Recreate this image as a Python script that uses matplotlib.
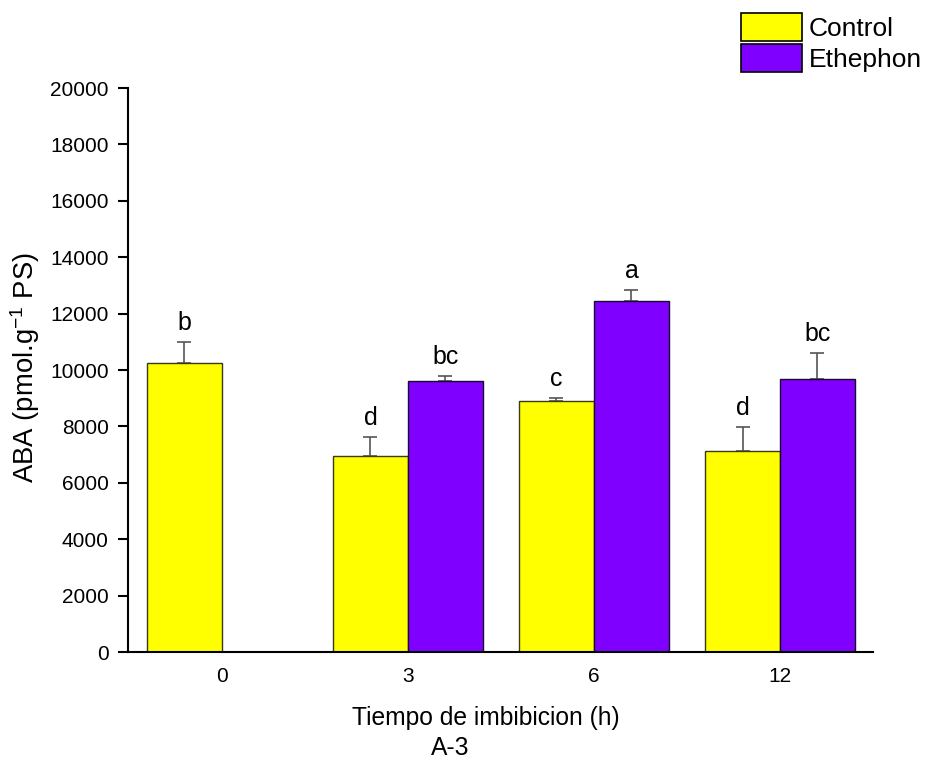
import numpy as np
import matplotlib
matplotlib.use("Agg")
import matplotlib.pyplot as plt
from matplotlib.patches import Patch

plt.rcParams['font.family'] = ['Liberation Sans', 'DejaVu Sans']
plt.rcParams['mathtext.fontset'] = 'custom'
plt.rcParams['mathtext.rm'] = 'Liberation Sans'
plt.rcParams['mathtext.it'] = 'Liberation Sans'

categories = ["0", "3", "6", "12"]
control = [10260, 6950, 8890, 7130]
control_err = [740, 670, 110, 840]
ethephon = [np.nan, 9610, 12460, 9690]
ethephon_err = [np.nan, 190, 390, 930]
control_letters = ["b", "d", "c", "d"]
ethephon_letters = ["", "bc", "a", "bc"]

fig = plt.figure(figsize=(9.29, 7.63), dpi=100)
ax = fig.add_axes([128/929, 1 - 652/763, (873-128)/929, (652-88)/763])

x = np.arange(len(categories))
w = 0.403
ax.bar(x - w/2, control, width=w, color="#FFFF00", edgecolor="#3a3a1a", linewidth=1.0, zorder=2)
ax.bar(x + w/2, ethephon, width=w, color="#8000FF", edgecolor="#1a0a2a", linewidth=1.0, zorder=2)

ax.errorbar(x - w/2, control, yerr=[np.zeros(4), control_err], fmt='none',
            ecolor="#555555", elinewidth=1.2, capsize=5, capthick=1.2, zorder=1)
ax.errorbar(x + w/2, ethephon, yerr=[np.zeros(4), ethephon_err], fmt='none',
            ecolor="#555555", elinewidth=1.2, capsize=5, capthick=1.2, zorder=1)

for xi, v, e, t in zip(x - w/2, control, control_err, control_letters):
    if t:
        ax.annotate(t, (xi, v + e), xytext=(0, 5), textcoords='offset points',
                    ha='center', va='bottom', fontsize=18)
for xi, v, e, t in zip(x + w/2, ethephon, ethephon_err, ethephon_letters):
    if t:
        ax.annotate(t, (xi, v + e), xytext=(0, 5), textcoords='offset points',
                    ha='center', va='bottom', fontsize=18)

ax.set_xlim(-0.505, 3.5)
ax.set_ylim(0, 20000)
ax.set_yticks(np.arange(0, 20001, 2000))
ax.set_xticks(x)
ax.set_xticklabels(categories)
ax.tick_params(axis='y', direction='out', length=7, width=1.5, labelsize=15, pad=7)
ax.tick_params(axis='x', length=0, labelsize=15, pad=11)
for s in ['top', 'right']:
    ax.spines[s].set_visible(False)
for s in ['left', 'bottom']:
    ax.spines[s].set_linewidth(1.5)

ax.set_ylabel("ABA (pmol.g$^{-1}$ PS)", fontsize=19.8)
ax.yaxis.set_label_coords(-86/745, 0.505)
fig.text(486/929, 1 - 718/763, "Tiempo de imbibicion (h)", ha='center', va='center', fontsize=17.7)
fig.text(450/929, 1 - 748/763, "A-3", ha='center', va='center', fontsize=17.7)

handles = [Patch(facecolor="#FFFF00", edgecolor="black", linewidth=1.2, label="Control"),
           Patch(facecolor="#8000FF", edgecolor="black", linewidth=1.2, label="Ethephon")]
fig.legend(handles=handles, loc='upper left', bbox_to_anchor=(736/929, 1 - 8/763),
           frameon=False, fontsize=19, handlelength=2.3, handleheight=1.25,
           handletextpad=0.25, labelspacing=0.12, borderaxespad=0, borderpad=0.2)

fig.savefig("out.png", dpi=100)
